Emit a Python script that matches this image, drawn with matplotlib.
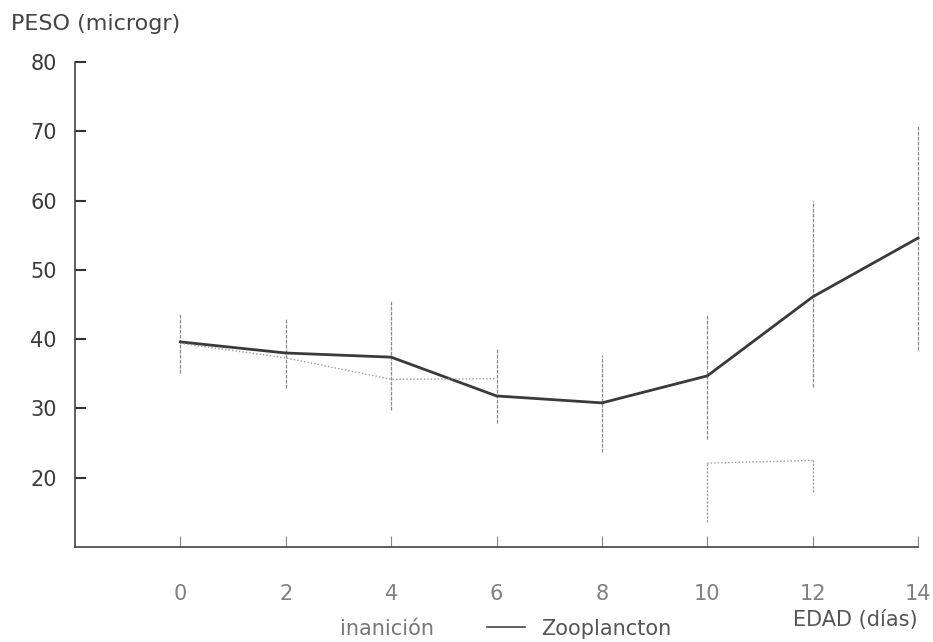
import numpy as np
import matplotlib.pyplot as plt

plt.rcParams['font.family'] = ['DejaVu Sans']

# edad (dias)
dias = [0, 2, 4, 6, 8, 10, 12, 14]

# Zooplancton: media y extremos de la barra
zoo_media = [39.6, 38.0, 37.4, 31.8, 30.8, 34.7, 46.1, 54.6]
zoo_alto = [43.7, 43.0, 45.6, 38.7, 37.7, 43.7, 60.0, 70.7]
zoo_bajo = [35.1, 32.9, 29.8, 27.9, 23.7, 25.6, 33.1, 38.4]

# inanicion (linea punteada, casi borrada en el original)
inan_dias = [0, 2, 4, 6, 8, 10, 12]
inan_media = [39.4, 37.3, 34.2, 34.3, np.nan, 22.1, 22.5]
inan_bajo = [39.4, 37.3, 34.2, 34.3, np.nan, 13.6, 18.0]

fig = plt.figure(figsize=(9.33, 6.42), dpi=100)
ax = fig.add_axes([0.0804, 0.148, 0.9036, 0.7554])

gris_barra = '#8a8a8a'
ax.vlines(dias, zoo_bajo, zoo_alto, color=gris_barra, lw=0.9,
          linestyles=(0, (3, 1)), clip_on=False)
ax.plot(dias, zoo_media, color='#3a3a3a', lw=2.0, clip_on=False)

ax.vlines(inan_dias, inan_bajo, inan_media, color='#a0a0a0', lw=0.9,
          linestyles=(0, (2, 1)), clip_on=False)
ax.plot(inan_dias, inan_media, color='#9a9a9a', lw=1.0, ls=(0, (1, 1.5)))

ax.set_xlim(-2, 14)
ax.set_ylim(10, 80)
ax.set_xticks(dias)
ax.set_yticks([20, 30, 40, 50, 60, 70, 80])

ax.spines['top'].set_visible(False)
ax.spines['right'].set_visible(False)
for s in ['left', 'bottom']:
    ax.spines[s].set_color('#444444')
    ax.spines[s].set_linewidth(1.2)

ax.tick_params(axis='y', direction='in', length=8, width=1.5, color='#333333',
               labelsize=15, labelcolor='#3a3a3a', pad=13)
ax.tick_params(axis='x', direction='in', length=8, width=0.8, color='#888888',
               labelsize=15, labelcolor='#808080', pad=27)

fig.text(0.012, 0.962, 'PESO (microgr)', fontsize=16, color='#444444', ha='left', va='center')
fig.text(0.984, 0.034, 'EDAD (días)', fontsize=15, color='#555555', ha='right', va='center')

# leyenda a mano, como en el original
fig.text(0.364, 0.021, 'inanición', fontsize=15, color='#777777', ha='left', va='center')
fig.add_artist(plt.Line2D([0.522, 0.563], [0.024, 0.024], color='#444444', lw=1.2))
fig.text(0.580, 0.021, 'Zooplancton', fontsize=15, color='#555555', ha='left', va='center')

fig.savefig('out.png', dpi=100)
